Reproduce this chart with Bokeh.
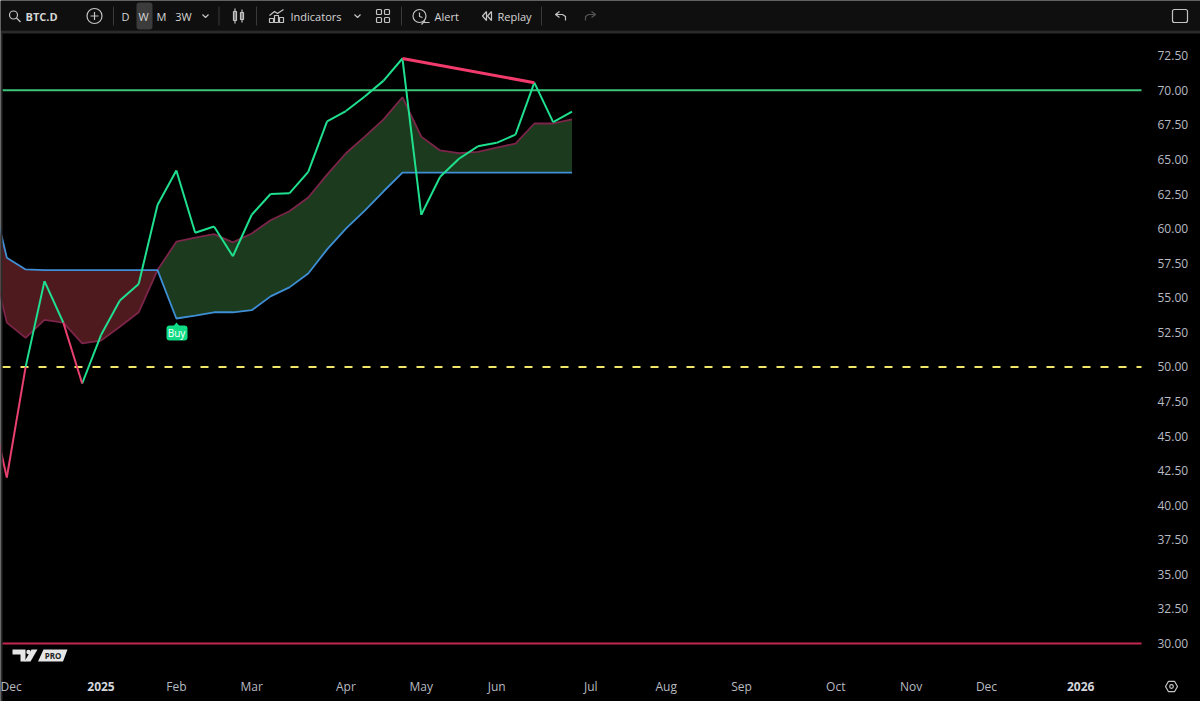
from datetime import datetime, timedelta, timezone
from bokeh.plotting import figure
from bokeh.core.properties import value
from bokeh.models import Range1d, LinearAxis, FixedTicker
from bokeh.embed import file_html
from bokeh.resources import INLINE

# ---------- data ----------
symbol = "BTC.D"
first_week = datetime(2024, 11, 25, tzinfo=timezone.utc)
rsi = [48.1, 42.0, 50.0, 56.2, 53.2, 48.8, 52.3, 54.8, 56.0, 61.7, 64.2, 59.7, 60.15, 58.0, 61.0, 62.5, 62.55,
       64.1, 67.75, 68.5, 69.55, 70.7, 72.3, 61.0, 63.75, 65.05, 65.95, 66.2, 66.8, 70.55, 67.7, 68.45]
upper_ma = [58.9, 53.2, 52.1, 53.4, 53.2, 51.7, 51.9, 52.9, 53.95, 57.0, 59.05, 59.35, 59.6, 59.0, 59.65, 60.6, 61.25,
            62.25, 63.9, 65.45, 66.65, 67.9, 69.5, 66.65, 65.65, 65.45, 65.55, 65.85, 66.15, 67.6, 67.6, 67.9]
lower_ma = [63.6, 57.9, 57.05, 57.0, 57.0, 57.0, 57.0, 57.0, 57.0, 57.0, 53.5, 53.7, 53.95, 53.95, 54.1, 55.1, 55.75,
            56.75, 58.5, 60.0, 61.3, 62.7, 64.05, 64.05, 64.05, 64.05, 64.05, 64.05, 64.05, 64.05, 64.05, 64.05]
pink_segments = [0, 1, 4]       # index of the rsi segments drawn in pink
cross_index = 9                 # week where the cloud flips from red to green
divergence_idx = [22, 29]
level_top, level_mid, level_bottom = 70.0, 50.0, 30.0
price_ticks = [72.5, 70, 67.5, 65, 62.5, 60, 57.5, 55, 52.5, 50, 47.5, 45, 42.5, 40, 37.5, 35, 32.5, 30]
month_ticks = {"Dec": (2024, 12, 2), "Feb": (2025, 2, 3), "Mar": (2025, 3, 3), "Apr": (2025, 4, 7),
               "May": (2025, 5, 5), "Jun": (2025, 6, 2), "Jul": (2025, 7, 7), "Aug": (2025, 8, 4),
               "Sep": (2025, 9, 1), "Oct": (2025, 10, 6), "Nov": (2025, 11, 3), "Dec ": (2025, 12, 1)}
year_ticks = {"2025": (2025, 1, 6), "2026": (2026, 1, 5)}

weeks = [first_week + timedelta(days=7 * i) for i in range(len(rsi))]
def ms(d): return d.timestamp() * 1000
xs = [ms(d) for d in weeks]

# ---------- pixel layout (reference coordinates) ----------
W, H = 1200, 701
WEEK_MS = 7 * 86400000
PX_WEEK, PX_X0 = 18.84, -12.54
PX_UNIT, PX_Y30 = 13.83, 643.0
def tx(px): return ms(first_week) + (px - PX_X0) / PX_WEEK * WEEK_MS
def ty(py): return 30 + (PX_Y30 - py) / PX_UNIT
AXIS_X, AXIS_Y = 1141, 672

p = figure(width=W, height=H, output_backend="svg", toolbar_location=None,
           x_range=Range1d(tx(0), tx(W)), y_range=Range1d(ty(H), ty(0)),
           x_axis_location=None, y_axis_location=None, min_border=0,
           background_fill_color="#000000", border_fill_color="#000000", outline_line_color=None)
p.grid.visible = False
p.extra_x_ranges = {"px": Range1d(0, W)}
p.extra_y_ranges = {"px": Range1d(H, 0)}
PX = dict(x_range_name="px", y_range_name="px")

# ---------- axes ----------
FONT = "Open Sans"
TF = value(FONT)
yax = LinearAxis(fixed_location=tx(AXIS_X), ticker=FixedTicker(ticks=price_ticks),
                 major_label_overrides={t: f"{t:.2f}" for t in price_ticks},
                 axis_line_color=None, major_tick_line_color=None, minor_tick_line_color=None,
                 major_label_standoff=10, major_label_text_color="#b8bac2",
                 major_label_text_font=FONT, major_label_text_font_size="12px")
p.add_layout(yax, "right")
m_ms = {ms(datetime(*v, tzinfo=timezone.utc)): k.strip() for k, v in month_ticks.items()}
y_ms = {ms(datetime(*v, tzinfo=timezone.utc)): k for k, v in year_ticks.items()}
for labels, style, col, standoff in ((m_ms, "normal", "#b8bac2", 5), (y_ms, "bold", "#d4d6dc", 9)):
    xax = LinearAxis(fixed_location=ty(AXIS_Y), ticker=FixedTicker(ticks=list(labels)),
                     major_label_overrides=labels, axis_line_color=None,
                     major_tick_line_color=None, minor_tick_line_color=None,
                     major_tick_in=0, major_tick_out=0,
                     major_label_standoff=standoff, major_label_text_color=col, major_label_text_font=FONT,
                     major_label_text_font_size="12px", major_label_text_font_style=style)
    p.add_layout(xax, "below")

# ---------- cloud ----------
c = cross_index
p.varea(xs[:c + 1], lower_ma[:c + 1], upper_ma[:c + 1], fill_color="#4f1a1e")
p.varea(xs[c:], lower_ma[c:], upper_ma[c:], fill_color="#1c3a1e")
p.line(xs, upper_ma, line_color="#7c2449", line_width=1.8)
p.line(xs, lower_ma, line_color="#3f8fd6", line_width=1.8)

# ---------- levels ----------
x0, x1 = tx(2), tx(AXIS_X)
p.line([x0, x1], [level_top, level_top], line_color="#3cc47a", line_width=2)
p.line([x0, x1], [level_bottom, level_bottom], line_color="#c4274f", line_width=1.8)
p.line([x0, x1], [level_mid, level_mid], line_color="#f2e66a", line_width=2, line_dash=[8, 10])

# ---------- rsi ----------
green_x, green_y, pink_x, pink_y = [], [], [], []
for i in range(len(xs) - 1):
    tgt_x, tgt_y = (pink_x, pink_y) if i in pink_segments else (green_x, green_y)
    tgt_x.append(xs[i:i + 2]); tgt_y.append(rsi[i:i + 2])
p.multi_line(green_x, green_y, line_color="#1fe08f", line_width=2)
p.multi_line(pink_x, pink_y, line_color="#e8406f", line_width=2)
a, b = divergence_idx
p.line([xs[a], xs[b]], [rsi[a], rsi[b]], line_color="#f23b6c", line_width=3)

# ---------- Buy badge ----------
bx = 176
p.quad(left=[166], right=[187], top=[325], bottom=[340], fill_color="#0fdc85", line_color=None, border_radius=3, **PX)
p.patch([bx - 3, bx, bx + 3], [325.5, 322, 325.5], fill_color="#0fdc85", line_color=None, **PX)
p.text([bx], [332], text=["Buy"], text_color="#ffffff", text_font=TF, text_font_size="10px",
       text_align="center", text_baseline="middle", **PX)

# ---------- TV logo ----------
LOGO = "#e6e6e6"
p.patches([[12, 25, 25, 20, 20, 12], [31, 37, 30, 24], [37.5, 43, 67, 62.5]],
          [[649, 649, 661, 661, 654, 654], [649, 649, 661, 661], [661, 649, 649, 661]],
          fill_color=LOGO, line_color=None, **PX)
p.circle([28], [651.5], radius=2.2, fill_color=LOGO, line_color=None, **PX)
p.text([52.5], [655], text=["PRO"], text_color="#222222", text_font=TF, text_font_style="bold",
       text_font_size="8px", text_align="center", text_baseline="middle", **PX)

# ---------- toolbar ----------
BAR, SEP, ICON, TXT = "#0f0f0f", "#2a2a2a", "#c4c4c4", "#d6d6d6"
p.quad(left=[0], right=[W], top=[0], bottom=[30], fill_color=BAR, line_color=None, **PX)
p.quad(left=[0], right=[W], top=[30], bottom=[33], fill_color=SEP, line_color=None, **PX)
p.quad(left=[0], right=[2], top=[33], bottom=[H], fill_color=SEP, line_color=None, **PX)
p.quad(left=[136], right=[152], top=[2], bottom=[29], fill_color="#3c3c3c", line_color=None, border_radius=3, **PX)
labels = [(25, symbol, "bold"), (125, "D", "normal"), (143, "W", "normal"), (161, "M", "normal"),
          (183, "3W", "normal"), (290, "Indicators", "normal"), (434, "Alert", "normal"), (497, "Replay", "normal")]
for lx, s, st in labels:
    al = "center" if s in ("D", "W", "M", "3W") else "left"
    p.text([lx], [15.5], text=[s], text_color=TXT, text_font=TF, text_font_size="11px",
           text_font_style=st, text_align=al, text_baseline="middle", **PX)
for sx in (113, 218.5, 256, 401, 541):
    p.line([sx, sx], [6, 25], line_color="#3a3a3a", line_width=1, **PX)
ico = dict(line_color=ICON, line_width=1.2, **PX)
p.circle([13], [14.5], radius=4, fill_color=None, **ico)                      # search
p.segment([16], [17.5], [20], [21.5], **ico)
p.circle([94], [15.5], radius=7.5, fill_color=None, **ico)                    # plus
p.segment([90, 94], [15.5, 11.5], [98, 94], [15.5, 19.5], **ico)
for cx in (205, 357):                                                         # chevrons
    p.line([cx - 3, cx, cx + 3], [14, 17, 14], **ico)
p.quad(left=[233, 240], right=[236, 243], top=[11, 12], bottom=[20, 19], fill_color=None, **ico)  # candles
p.segment([234.5, 241.5], [8, 9], [234.5, 241.5], [23, 22], **ico)
p.line([269, 274, 277, 283], [15, 11, 13, 9], **ico)                          # indicators
p.quad(left=[269, 274, 279], right=[273, 278, 283], top=[18, 15, 17], bottom=[22, 22, 22], fill_color=None, **ico)
p.quad(left=[376, 384, 376, 384], right=[381, 389, 381, 389], top=[9, 9, 17, 17], bottom=[14, 14, 22, 22],
       fill_color=None, border_radius=1, **ico)                               # layouts
p.circle([419], [15.5], radius=6.5, fill_color=None, **ico)                   # alert
p.line([419, 419, 422], [12, 16, 17], **ico)
p.segment([423, 421], [22, 24], [429, 424.5], [22, 20], **ico)
p.line([486, 482, 486, 486], [11, 15.5, 20, 11], **ico)                       # replay
p.line([491, 487, 491, 491], [11, 15.5, 20, 11], **ico)
p.line([559, 555, 559], [11, 14, 17], **ico)                                  # undo
p.line([555, 562, 565, 565], [14, 14, 16, 20], **ico)
redo = dict(line_color="#555555", line_width=1.2, **PX)
p.line([591, 595, 591], [11, 14, 17], **redo)
p.line([595, 588, 585, 585], [14, 14, 16, 20], **redo)
p.quad(left=[1172], right=[1187], top=[9], bottom=[22], fill_color=None, border_radius=2, **ico)
p.scatter([1171], [686], size=12, marker="hex", fill_color=None, **ico)       # settings
p.circle([1171], [686], radius=1.8, fill_color=None, **ico)

open("out.html", "w").write(file_html(p, INLINE))
